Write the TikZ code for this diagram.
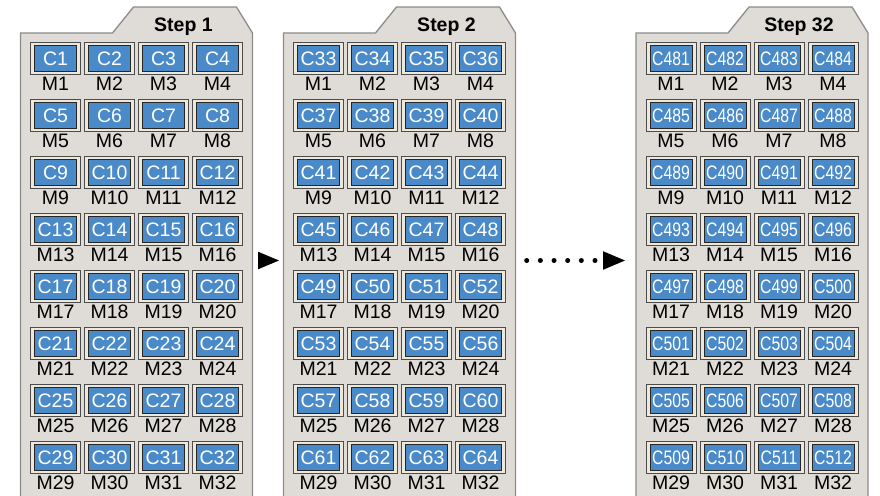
\documentclass[tikz,border=0pt]{standalone}
\usepackage{fontspec}
\setmainfont{Liberation Sans}
\definecolor{panelfill}{HTML}{DFDBD7}
\definecolor{panelline}{HTML}{8C8C8C}
\definecolor{cream}{HTML}{EEE8DA}
\definecolor{cellblue}{HTML}{4A8AC9}
\begin{document}
\begin{tikzpicture}[x=1pt,y=-1pt,
  panel/.style={fill=panelfill, draw=panelline, line width=1.3pt},
  cellframe/.style={draw=black!70, fill=cream, line width=0.7pt, minimum width=50pt, minimum height=32pt, inner sep=0pt},
  cellbox/.style={draw=black!85, fill=cellblue, line width=0.9pt, minimum width=42pt, minimum height=25.5pt, inner sep=0pt, text=white, font=\fontsize{19.5}{21}\selectfont},
  mlabel/.style={font=\fontsize{19.5}{21}\selectfont, inner sep=0pt},
  steptitle/.style={font=\bfseries\fontsize{19.5}{21}\selectfont, inner sep=0pt, anchor=base},
  tri/.style={fill=black}]
\useasboundingbox (0,0) rectangle (880,495);
\clip (0,0) rectangle (880,495);
\foreach \p/\L/\base/\title in {1/20.5/0/Step 1,2/283.5/32/Step 2,3/636/480/Step 32}{
  \draw[panel] ({\L},33) -- ({\L+92},33) -- ({\L+113},7) -- ({\L+216},7) -- ({\L+232},33) -- ({\L+232},520) -- ({\L},520) -- cycle;
  \node[steptitle] (t\p) at ({\L+163},31.5) {\title};
  \foreach \r in {0,...,7}{
    \foreach \c in {0,...,3}{
      \pgfmathtruncatemacro\i{\r*4+\c+1}
      \pgfmathtruncatemacro\cn{\base+\i}
      \pgfmathsetmacro\cx{\L+35+54*\c}
      \pgfmathsetmacro\cy{58.3+57*\r}
      \node[cellframe] (p\p f\i) at (\cx,\cy) {};
      \node[cellbox] (p\p c\i) at (\cx,\cy) {\ifnum\cn>99 \scalebox{0.81}[1]{C\cn}\else C\cn\fi};
      \node[mlabel] (p\p m\i) at (\cx,\cy+25.4) {M\i};
    }
  }
}
\coordinate (a1l) at (258,251.7);
\coordinate (a1t) at (279,260.5);
\coordinate (a1b) at (258,269.3);
\fill[tri] (a1l) -- (a1t) -- (a1b) -- cycle;
\coordinate (d1) at (526.7,260.5);
\coordinate (d2) at (597,260.5);
\draw[line width=5pt, line cap=round, dash pattern=on 0pt off 13.66pt] (d1) -- (d2);
\coordinate (a2l) at (603,251.2);
\coordinate (a2t) at (625,260.5);
\coordinate (a2b) at (603,269.8);
\fill[tri] (a2l) -- (a2t) -- (a2b) -- cycle;
\end{tikzpicture}
\end{document}
